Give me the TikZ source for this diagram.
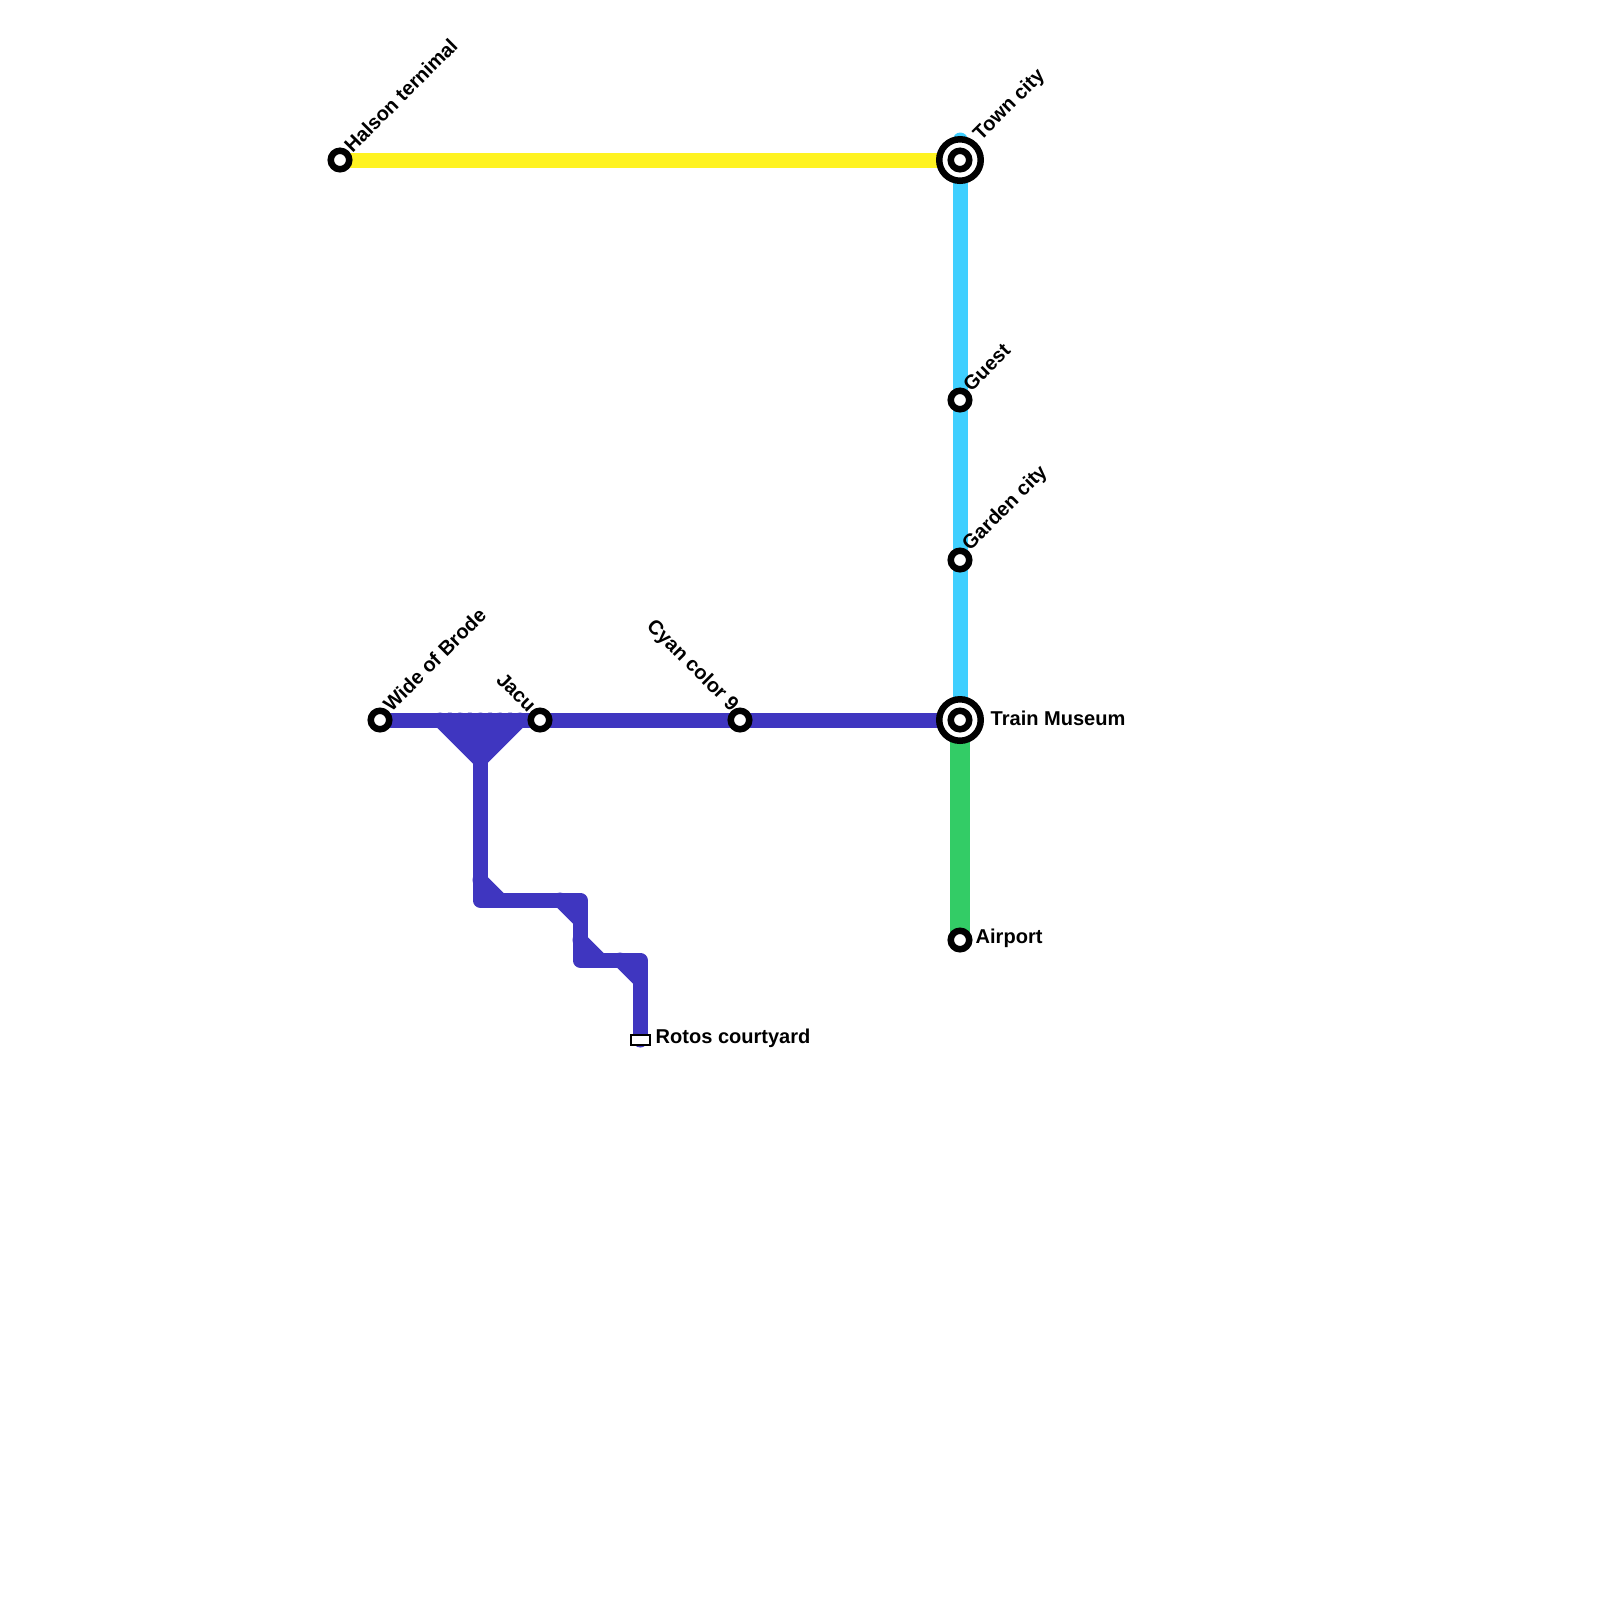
\documentclass[tikz,border=0pt]{standalone}
\usepackage{fontspec}
\setmainfont{Liberation Sans}
\usetikzlibrary{backgrounds,positioning}
\definecolor{lineyellow}{HTML}{FFF321}
\definecolor{linecyan}{HTML}{3FCFFF}
\definecolor{lineblue}{HTML}{3F36C0}
\definecolor{linegreen}{HTML}{33CC66}
\tikzset{
  station/.style={circle,draw=black,fill=white,line width=0.065cm,minimum size=0.185cm,inner sep=0pt},
  interchange/.style={circle,draw=black,fill=white,line width=0.065cm,minimum size=0.415cm,inner sep=0pt},
  terminus/.style={rectangle,draw=black,fill=white,line width=0.02cm,minimum width=0.19cm,minimum height=0.1cm,inner sep=0pt},
  track/.style={line width=0.15cm,line cap=round,line join=round},
  namelabel/.style={font=\bfseries\fontsize{5.7}{7}\selectfont,inner sep=0pt,text=black}
}
\begin{document}
\begin{tikzpicture}[x=0.2cm,y=-0.2cm]
  \useasboundingbox (0,0) rectangle (80,80);
  % stations
  \node[station] (halson) at (17,8) {};
  \node[interchange] (town) at (48,8) {};
  \node[station] (guest) at (48,20) {};
  \node[station] (garden) at (48,28) {};
  \node[interchange] (museum) at (48,36) {};
  \node[station] (airport) at (48,47) {};
  \node[station] (wide) at (19,36) {};
  \node[station] (jacu) at (27,36) {};
  \node[station] (cyan) at (37,36) {};
  \node[terminus] (rotos) at (32,52) {};
  \node[station] (towninner) at (town) {};
  \node[station] (museuminner) at (museum) {};
  \coordinate (towntop) at (48,7);
  % lines
  \begin{scope}[on background layer]
    \draw[track,lineyellow] (halson.center) -- (town.center);
    \draw[track,linecyan] (towntop) -- (museum.center);
    \draw[track,line width=0.2cm,line cap=butt,linegreen] (museum.center) -- (airport.center);
    \draw[track,lineblue] (wide.center) -- (museum.center);
    \foreach \x in {22,22.5,...,26}{\draw[track,lineblue] (\x,36) -- (24,38);}
    \draw[track,lineblue] (24,38) -- (24,45) -- (29,45) -- (29,48) -- (32,48) -- (rotos.center);
    \foreach \a/\b/\c/\d in {24/44/25/45,28/45/29/46,29/47/30/48,31/48/32/49}{
      \draw[track,lineblue] (\a,\b) -- (\c,\d);}
  \end{scope}
  % labels
  \node[namelabel,rotate=45,anchor=west] (halsonlabel) at ([shift={(0.35,-0.55)}]halson.center) {Halson ternimal};
  \node[namelabel,rotate=45,anchor=west] (townlabel) at ([shift={(0.85,-1.1)}]town.center) {Town city};
  \node[namelabel,rotate=45,anchor=west] (guestlabel) at ([shift={(0.3,-0.6)}]guest.center) {Guest};
  \node[namelabel,rotate=45,anchor=west] (gardenlabel) at ([shift={(0.3,-0.6)}]garden.center) {Garden city};
  \node[namelabel,rotate=45,anchor=west] (widelabel) at ([shift={(0.3,-0.6)}]wide.center) {Wide of Brode};
  \node[namelabel,rotate=-45,anchor=east] (jaculabel) at ([shift={(-0.35,-0.55)}]jacu.center) {Jacu};
  \node[namelabel,rotate=-45,anchor=east] (cyanlabel) at ([shift={(-0.25,-0.55)}]cyan.center) {Cyan color 9};
  \node[namelabel,anchor=west] (museumlabel) at ([shift={(1.5,-0.1)}]museum.center) {Train Museum};
  \node[namelabel,anchor=west] (airportlabel) at ([shift={(0.75,-0.1)}]airport.center) {Airport};
  \node[namelabel,anchor=west] (rotoslabel) at ([shift={(0.75,-0.1)}]rotos.center) {Rotos courtyard};
\end{tikzpicture}
\end{document}
